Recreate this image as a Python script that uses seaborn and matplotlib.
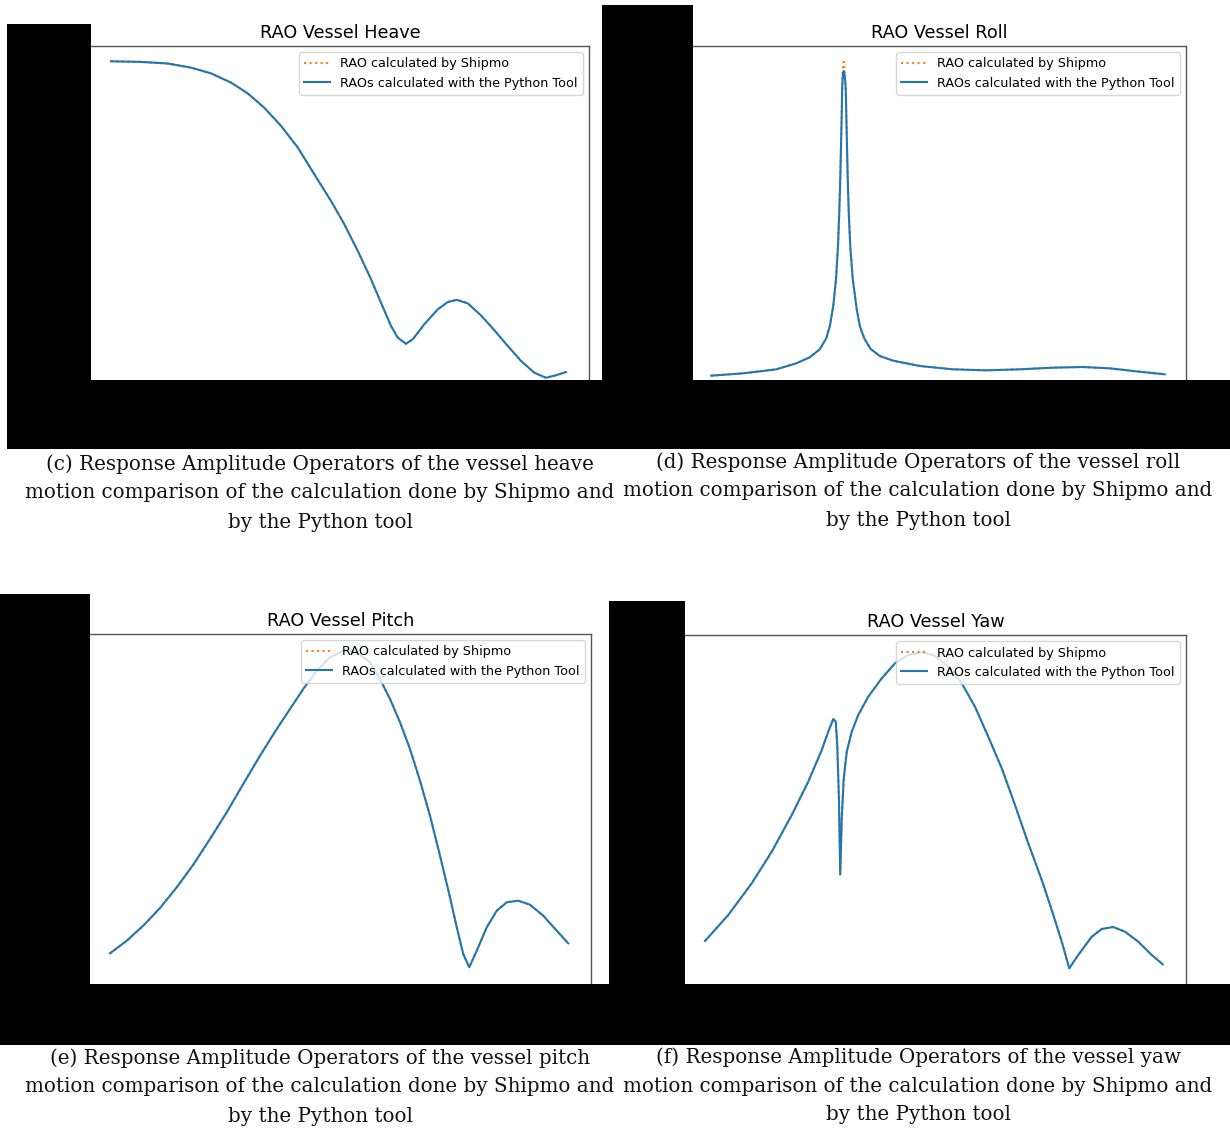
import matplotlib
matplotlib.use("Agg")
import matplotlib.pyplot as plt
from matplotlib.patches import Rectangle
import seaborn as sns
import pandas as pd

# ---------------- data ----------------
heave_freq = [0.080, 0.200, 0.307, 0.400, 0.480, 0.560, 0.627, 0.693, 0.760, 0.827,
              0.893, 0.960, 1.013, 1.067, 1.120, 1.160, 1.200, 1.227, 1.260, 1.287,
              1.333, 1.387, 1.427, 1.463, 1.507, 1.560, 1.613, 1.667, 1.720, 1.773,
              1.820, 1.860, 1.900]
heave_python = [1.002, 1.000, 0.995, 0.982, 0.964, 0.935, 0.901, 0.856, 0.799, 0.731,
                0.647, 0.563, 0.490, 0.406, 0.317, 0.243, 0.170, 0.133, 0.114, 0.128,
                0.175, 0.222, 0.245, 0.252, 0.241, 0.203, 0.157, 0.107, 0.060, 0.023,
                0.007, 0.015, 0.025]
heave_shipmo = [1.002, 1.000, 0.995, 0.982, 0.964, 0.935, 0.901, 0.856, 0.799, 0.731,
                0.647, 0.563, 0.490, 0.406, 0.317, 0.243, 0.170, 0.133, 0.114, 0.128,
                0.175, 0.222, 0.245, 0.252, 0.241, 0.203, 0.157, 0.107, 0.060, 0.023,
                0.007, 0.015, 0.025]

roll_freq = [0.073, 0.200, 0.333, 0.413, 0.467, 0.507, 0.533, 0.548, 0.561, 0.572,
             0.580, 0.585, 0.589, 0.592, 0.595, 0.597, 0.600, 0.603, 0.607, 0.611,
             0.613, 0.616, 0.619, 0.623, 0.629, 0.639, 0.655, 0.668, 0.685, 0.710,
             0.747, 0.800, 0.907, 1.040, 1.173, 1.307, 1.440, 1.560, 1.667, 1.773, 1.887]
roll_python = [0.144, 0.222, 0.356, 0.556, 0.756, 1.022, 1.389, 1.820, 2.467, 3.356,
               4.467, 5.578, 6.689, 7.800, 8.911, 9.800, 10.244, 10.300, 10.133, 9.689,
               8.911, 7.800, 6.689, 5.578, 4.467, 3.356, 2.356, 1.778, 1.389, 1.040,
               0.800, 0.644, 0.467, 0.356, 0.322, 0.356, 0.411, 0.433, 0.389, 0.289, 0.189]
roll_shipmo = [0.144, 0.222, 0.356, 0.556, 0.756, 1.022, 1.389, 1.820, 2.467, 3.356,
               4.467, 5.578, 6.689, 7.800, 8.911, 10.000, 10.500, 10.610, 10.300, 9.689,
               8.911, 7.800, 6.689, 5.578, 4.467, 3.356, 2.356, 1.778, 1.389, 1.040,
               0.800, 0.644, 0.467, 0.356, 0.322, 0.356, 0.411, 0.433, 0.389, 0.289, 0.189]

pitch_freq = [0.080, 0.147, 0.213, 0.280, 0.347, 0.413, 0.480, 0.547, 0.613, 0.680,
              0.747, 0.800, 0.853, 0.907, 0.960, 1.013, 1.067, 1.120, 1.160, 1.200,
              1.240, 1.280, 1.320, 1.360, 1.400, 1.440, 1.467, 1.493, 1.517, 1.547,
              1.587, 1.627, 1.667, 1.713, 1.760, 1.813, 1.867, 1.913]
pitch_python = [0.307, 0.433, 0.583, 0.760, 0.967, 1.193, 1.450, 1.717, 2.000, 2.283,
                2.550, 2.750, 2.950, 3.133, 3.267, 3.333, 3.317, 3.217, 3.050, 2.850,
                2.617, 2.350, 2.033, 1.683, 1.283, 0.867, 0.567, 0.300, 0.167, 0.333,
                0.567, 0.733, 0.817, 0.833, 0.793, 0.683, 0.533, 0.407]
pitch_shipmo = [0.307, 0.433, 0.583, 0.760, 0.967, 1.193, 1.450, 1.717, 2.000, 2.283,
                2.550, 2.750, 2.950, 3.133, 3.267, 3.333, 3.317, 3.217, 3.050, 2.850,
                2.617, 2.350, 2.033, 1.683, 1.283, 0.867, 0.567, 0.300, 0.167, 0.333,
                0.567, 0.733, 0.817, 0.833, 0.793, 0.683, 0.533, 0.407]

yaw_freq = [0.080, 0.173, 0.267, 0.347, 0.427, 0.493, 0.547, 0.573, 0.593, 0.603,
            0.609, 0.616, 0.621, 0.627, 0.635, 0.647, 0.667, 0.693, 0.733, 0.787,
            0.840, 0.893, 0.947, 1.000, 1.053, 1.107, 1.160, 1.213, 1.267, 1.320,
            1.373, 1.427, 1.467, 1.507, 1.537, 1.573, 1.627, 1.667, 1.713, 1.760,
            1.813, 1.867, 1.911]
yaw_python = [0.430, 0.690, 1.007, 1.323, 1.690, 2.023, 2.340, 2.523, 2.650, 2.623,
              2.390, 1.823, 1.097, 1.657, 2.057, 2.323, 2.523, 2.690, 2.873, 3.057,
              3.207, 3.290, 3.317, 3.283, 3.173, 3.007, 2.773, 2.473, 2.157, 1.790,
              1.407, 1.040, 0.740, 0.423, 0.157, 0.290, 0.473, 0.550, 0.570, 0.523,
              0.423, 0.290, 0.197]
yaw_shipmo = [0.430, 0.690, 1.007, 1.323, 1.690, 2.023, 2.340, 2.523, 2.650, 2.623,
              2.390, 1.823, 1.097, 1.657, 2.057, 2.323, 2.523, 2.690, 2.873, 3.057,
              3.207, 3.290, 3.317, 3.283, 3.173, 3.007, 2.773, 2.473, 2.157, 1.790,
              1.407, 1.040, 0.740, 0.423, 0.157, 0.290, 0.473, 0.550, 0.570, 0.523,
              0.423, 0.290, 0.197]

titles = ["RAO Vessel Heave", "RAO Vessel Roll", "RAO Vessel Pitch", "RAO Vessel Yaw"]
label_shipmo = "RAO calculated by Shipmo"
label_python = "RAOs calculated with the Python Tool"
captions = [
    ["(c) Response Amplitude Operators of the vessel heave",
     "motion comparison of the calculation done by Shipmo and", "by the Python tool"],
    ["(d) Response Amplitude Operators of the vessel roll",
     "motion comparison of the calculation done by Shipmo and", "by the Python tool"],
    ["(e) Response Amplitude Operators of the vessel pitch",
     "motion comparison of the calculation done by Shipmo and", "by the Python tool"],
    ["(f) Response Amplitude Operators of the vessel yaw",
     "motion comparison of the calculation done by Shipmo and", "by the Python tool"],
]

# ---------------- layout ----------------
W, H = 1230, 1129
fig = plt.figure(figsize=(W / 100, H / 100), dpi=100)
fig.patch.set_facecolor("white")

def px_axes(left, top, right, bottom, **kw):
    return fig.add_axes([left / W, 1 - bottom / H, (right - left) / W, (bottom - top) / H], **kw)

panels = [
    dict(box=(91, 46, 589, 380), x=heave_freq, py=heave_python, sh=heave_shipmo,
         xlim=(0, 1.992), ylim=(0, 1.050)),
    dict(box=(693, 46, 1186, 380), x=roll_freq, py=roll_python, sh=roll_shipmo,
         xlim=(0, 1.972), ylim=(0, 11.133)),
    dict(box=(90, 634, 591, 984), x=pitch_freq, py=pitch_python, sh=pitch_shipmo,
         xlim=(0, 2.004), ylim=(0, 3.50)),
    dict(box=(685, 635, 1186, 984), x=yaw_freq, py=yaw_python, sh=yaw_shipmo,
         xlim=(0, 2.004), ylim=(0, 3.49)),
]

for p, title in zip(panels, titles):
    ax = px_axes(*p["box"])
    df = pd.DataFrame({"freq": p["x"], "python": p["py"], "shipmo": p["sh"]})
    sns.lineplot(data=df, x="freq", y="shipmo", ax=ax, color="#ff7f0e", linestyle=":",
                 linewidth=1.5, label=label_shipmo, estimator=None, sort=False)
    sns.lineplot(data=df, x="freq", y="python", ax=ax, color="#1f77b4", linestyle="-",
                 linewidth=1.5, label=label_python, estimator=None, sort=False)
    for ln in ax.get_lines():
        ln.set_solid_joinstyle("round")
        ln.set_dash_joinstyle("round")
    ax.set_xlim(*p["xlim"])
    ax.set_ylim(*p["ylim"])
    ax.set_xticks([])
    ax.set_yticks([])
    ax.set_xlabel("")
    ax.set_ylabel("")
    for s in ["left", "bottom"]:
        ax.spines[s].set_visible(False)
    for s in ["top", "right"]:
        ax.spines[s].set_color("#555555")
        ax.spines[s].set_linewidth(1.0)
    ax.set_title(title, fontsize=12.7, family="DejaVu Sans", pad=6)
    ax.legend(loc="upper right", fontsize=9.2, framealpha=0.8, edgecolor="#cccccc",
              fancybox=True)

# black redaction blocks
ov = fig.add_axes([0, 0, 1, 1], zorder=10)
ov.set_xlim(0, W)
ov.set_ylim(H, 0)
ov.axis("off")
blocks = [(7, 24, 91, 449), (7, 380, 1230, 449), (602, 5, 693, 449),
          (0, 594, 90, 1045), (0, 984, 1230, 1045), (609, 601, 685, 1045)]
for x0, y0, x1, y1 in blocks:
    ov.add_patch(Rectangle((x0, y0), x1 - x0, y1 - y0, facecolor="black", edgecolor="none"))

# captions
cap_pos = [(320, 464), (918, 462), (320, 1058), (918, 1057)]
for (cx, cy), lines in zip(cap_pos, captions):
    for i, line in enumerate(lines):
        fig.text(cx / W, 1 - (cy + 29 * i) / H, line, ha="center", va="center",
                 family="DejaVu Serif", fontsize=14.3, color="#111111")

fig.savefig("out.png", dpi=100, facecolor="white")
